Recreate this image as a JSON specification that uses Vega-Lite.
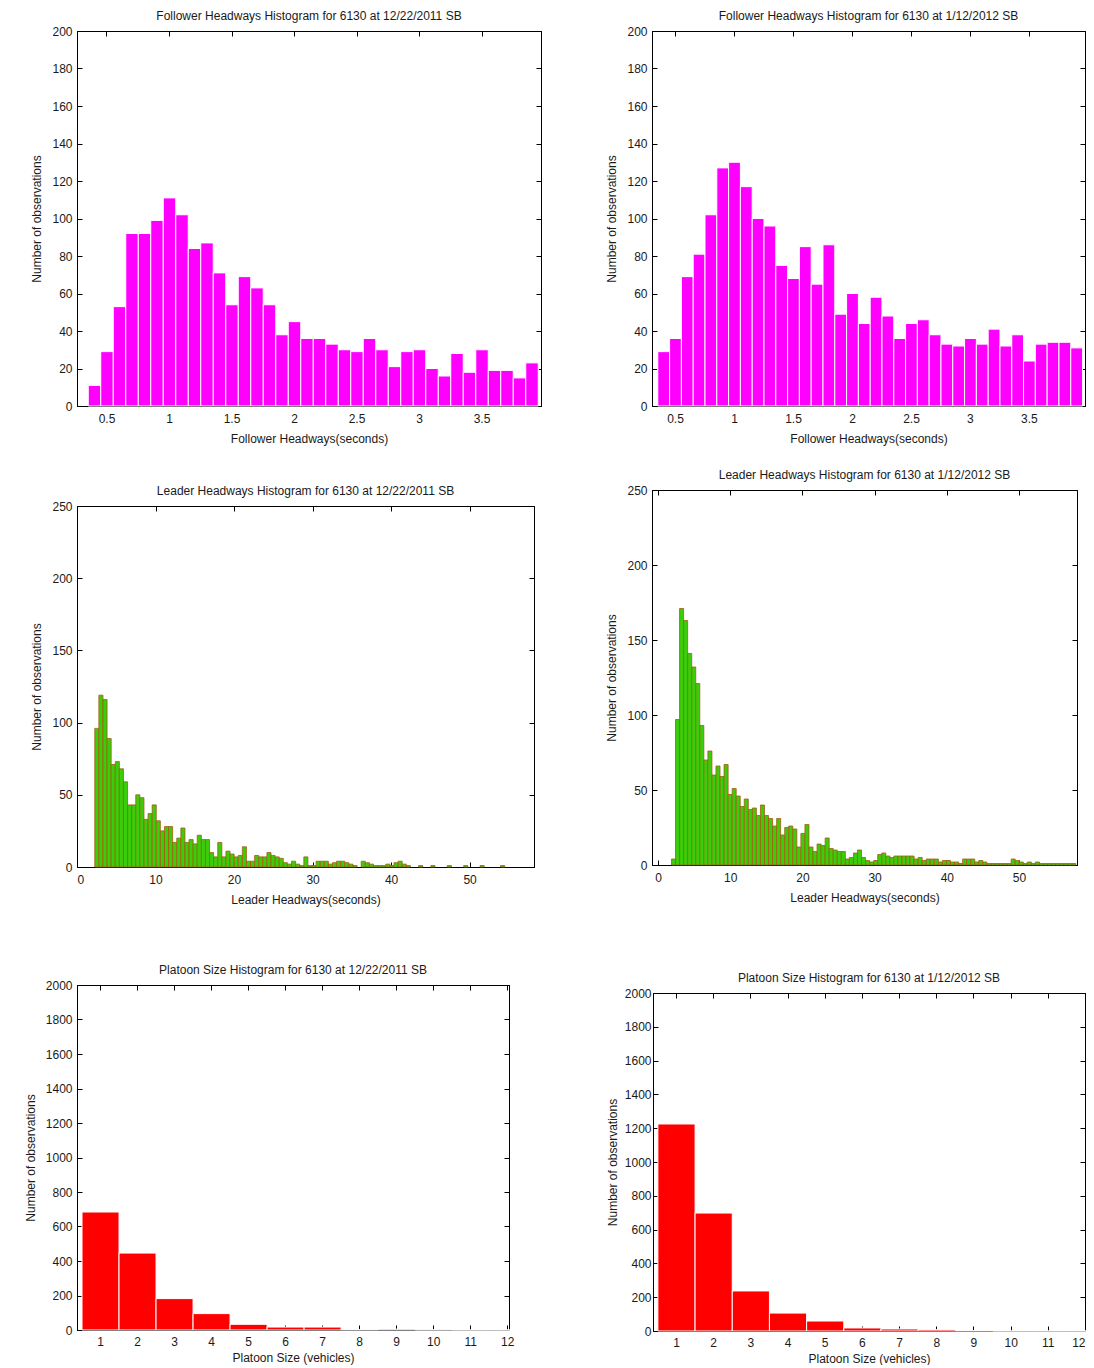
{
"$schema": "https://vega.github.io/schema/vega-lite/v6.json",
"background": "#ffffff",
"padding": {"left": 23, "top": 9, "right": 0, "bottom": 0},
"datasets": {
"fol1": [{"x":0.35,"n":11},{"x":0.45,"n":29},{"x":0.55,"n":53},{"x":0.65,"n":92},{"x":0.75,"n":92},{"x":0.85,"n":99},{"x":0.95,"n":111},{"x":1.05,"n":102},{"x":1.15,"n":84},{"x":1.25,"n":87},{"x":1.35,"n":71},{"x":1.45,"n":54},{"x":1.55,"n":69},{"x":1.65,"n":63},{"x":1.75,"n":54},{"x":1.85,"n":38},{"x":1.95,"n":45},{"x":2.05,"n":36},{"x":2.15,"n":36},{"x":2.25,"n":33},{"x":2.35,"n":30},{"x":2.45,"n":29},{"x":2.55,"n":36},{"x":2.65,"n":30},{"x":2.75,"n":21},{"x":2.85,"n":29},{"x":2.95,"n":30},{"x":3.05,"n":20},{"x":3.15,"n":16},{"x":3.25,"n":28},{"x":3.35,"n":18},{"x":3.45,"n":30},{"x":3.55,"n":19},{"x":3.65,"n":19},{"x":3.75,"n":15},{"x":3.85,"n":23}],
"fol2": [{"x":0.35,"n":29},{"x":0.45,"n":36},{"x":0.55,"n":69},{"x":0.65,"n":81},{"x":0.75,"n":102},{"x":0.85,"n":127},{"x":0.95,"n":130},{"x":1.05,"n":117},{"x":1.15,"n":100},{"x":1.25,"n":96},{"x":1.35,"n":75},{"x":1.45,"n":68},{"x":1.55,"n":85},{"x":1.65,"n":65},{"x":1.75,"n":86},{"x":1.85,"n":49},{"x":1.95,"n":60},{"x":2.05,"n":44},{"x":2.15,"n":58},{"x":2.25,"n":48},{"x":2.35,"n":36},{"x":2.45,"n":44},{"x":2.55,"n":46},{"x":2.65,"n":38},{"x":2.75,"n":33},{"x":2.85,"n":32},{"x":2.95,"n":36},{"x":3.05,"n":33},{"x":3.15,"n":41},{"x":3.25,"n":32},{"x":3.35,"n":38},{"x":3.45,"n":24},{"x":3.55,"n":33},{"x":3.65,"n":34},{"x":3.75,"n":34},{"x":3.85,"n":31}],
"lead1": [{"x":2.2,"n":96},{"x":2.722,"n":119},{"x":3.244,"n":116},{"x":3.766,"n":89},{"x":4.288,"n":71},{"x":4.81,"n":73},{"x":5.332,"n":68},{"x":5.854,"n":59},{"x":6.376,"n":43},{"x":6.898,"n":43},{"x":7.42,"n":50},{"x":7.942,"n":48},{"x":8.464,"n":33},{"x":8.986,"n":37},{"x":9.508,"n":43},{"x":10.03,"n":32},{"x":10.552,"n":25},{"x":11.074,"n":28},{"x":11.596,"n":28},{"x":12.118,"n":17},{"x":12.64,"n":20},{"x":13.162,"n":27},{"x":13.684,"n":17},{"x":14.206,"n":19},{"x":14.728,"n":16},{"x":15.25,"n":22},{"x":15.772,"n":19},{"x":16.294,"n":19},{"x":16.816,"n":10},{"x":17.338,"n":7},{"x":17.86,"n":17},{"x":18.382,"n":7},{"x":18.904,"n":11},{"x":19.426,"n":9},{"x":19.948,"n":7},{"x":20.47,"n":8},{"x":20.992,"n":14},{"x":21.514,"n":4},{"x":22.036,"n":4},{"x":22.558,"n":8},{"x":23.08,"n":7},{"x":23.602,"n":7},{"x":24.124,"n":10},{"x":24.646,"n":8},{"x":25.168,"n":7},{"x":25.69,"n":6},{"x":26.212,"n":3},{"x":26.734,"n":2},{"x":27.256,"n":4},{"x":27.778,"n":2},{"x":28.3,"n":1},{"x":28.822,"n":7},{"x":29.344,"n":1},{"x":29.866,"n":1},{"x":30.388,"n":4},{"x":30.91,"n":4},{"x":31.432,"n":4},{"x":31.954,"n":2},{"x":32.476,"n":3},{"x":32.998,"n":4},{"x":33.52,"n":4},{"x":34.042,"n":3},{"x":34.564,"n":2},{"x":35.086,"n":1},{"x":36.13,"n":4},{"x":36.652,"n":3},{"x":37.174,"n":2},{"x":37.696,"n":1},{"x":38.218,"n":1},{"x":38.74,"n":1},{"x":39.262,"n":2},{"x":39.784,"n":1},{"x":40.306,"n":3},{"x":40.828,"n":4},{"x":41.35,"n":2},{"x":41.872,"n":1},{"x":43.438,"n":1},{"x":45.004,"n":1},{"x":47.092,"n":1},{"x":49.18,"n":1},{"x":51.268,"n":1},{"x":53.878,"n":1}],
"lead2": [{"x":1.8,"n":4},{"x":2.36,"n":97},{"x":2.92,"n":171},{"x":3.48,"n":163},{"x":4.04,"n":141},{"x":4.6,"n":132},{"x":5.16,"n":121},{"x":5.72,"n":93},{"x":6.28,"n":70},{"x":6.84,"n":76},{"x":7.4,"n":60},{"x":7.96,"n":66},{"x":8.52,"n":59},{"x":9.08,"n":67},{"x":9.64,"n":47},{"x":10.2,"n":51},{"x":10.76,"n":46},{"x":11.32,"n":39},{"x":11.88,"n":44},{"x":12.44,"n":37},{"x":13.0,"n":38},{"x":13.56,"n":33},{"x":14.12,"n":40},{"x":14.68,"n":33},{"x":15.24,"n":31},{"x":15.8,"n":26},{"x":16.36,"n":31},{"x":16.92,"n":20},{"x":17.48,"n":25},{"x":18.04,"n":26},{"x":18.6,"n":24},{"x":19.16,"n":12},{"x":19.72,"n":21},{"x":20.28,"n":27},{"x":20.84,"n":12},{"x":21.4,"n":9},{"x":21.96,"n":14},{"x":22.52,"n":13},{"x":23.08,"n":18},{"x":23.64,"n":11},{"x":24.2,"n":10},{"x":24.76,"n":9},{"x":25.32,"n":9},{"x":25.88,"n":4},{"x":26.44,"n":5},{"x":27.0,"n":8},{"x":27.56,"n":10},{"x":28.12,"n":5},{"x":28.68,"n":3},{"x":29.24,"n":2},{"x":29.8,"n":3},{"x":30.36,"n":7},{"x":30.92,"n":8},{"x":31.48,"n":6},{"x":32.04,"n":5},{"x":32.6,"n":6},{"x":33.16,"n":6},{"x":33.72,"n":6},{"x":34.28,"n":6},{"x":34.84,"n":6},{"x":35.4,"n":4},{"x":35.96,"n":5},{"x":36.52,"n":3},{"x":37.08,"n":4},{"x":37.64,"n":4},{"x":38.2,"n":4},{"x":38.76,"n":2},{"x":39.32,"n":3},{"x":39.88,"n":3},{"x":40.44,"n":2},{"x":41.0,"n":2},{"x":41.56,"n":1},{"x":42.12,"n":4},{"x":42.68,"n":4},{"x":43.24,"n":4},{"x":43.8,"n":2},{"x":44.36,"n":3},{"x":44.92,"n":2},{"x":45.48,"n":1},{"x":46.04,"n":1},{"x":46.6,"n":1},{"x":47.16,"n":1},{"x":47.72,"n":1},{"x":48.28,"n":1},{"x":48.84,"n":4},{"x":49.4,"n":3},{"x":49.96,"n":2},{"x":50.52,"n":1},{"x":51.08,"n":2},{"x":51.64,"n":1},{"x":52.2,"n":2},{"x":52.76,"n":1},{"x":53.32,"n":1},{"x":53.88,"n":1},{"x":54.44,"n":1},{"x":55.0,"n":1},{"x":55.56,"n":1},{"x":56.12,"n":1},{"x":56.68,"n":1},{"x":57.24,"n":1}],
"plat1": [{"x":0.5,"n":684},{"x":1.5,"n":446},{"x":2.5,"n":182},{"x":3.5,"n":95},{"x":4.5,"n":33},{"x":5.5,"n":17},{"x":6.5,"n":17},{"x":7.5,"n":2},{"x":8.5,"n":5},{"x":9.5,"n":1},{"x":10.5,"n":0},{"x":11.5,"n":0}],
"plat2": [{"x":0.5,"n":1225},{"x":1.5,"n":698},{"x":2.5,"n":237},{"x":3.5,"n":106},{"x":4.5,"n":59},{"x":5.5,"n":18},{"x":6.5,"n":12},{"x":7.5,"n":8},{"x":8.5,"n":2},{"x":9.5,"n":0},{"x":10.5,"n":0},{"x":11.5,"n":0}]
},
"concat": [
  {"width": 464, "height": 375,
   "title": {"text": "Follower Headways Histogram for 6130 at 12/22/2011 SB"},
   "data": {"name": "fol1"},
   "layer": [
    {"mark": {"type": "bar", "fill": "#ff00ff", "stroke": "#ffffff", "strokeWidth": 1, "binSpacing": 0},
     "encoding": {
      "x": {"field": "x", "type": "quantitative", "bin": {"binned": true, "step": 0.1}, "scale": {"domain": [0.264, 3.976], "nice": false, "zero": false}, "axis": {"values": [0.5,1,1.5,2,2.5,3,3.5], "format": "~g", "title": "Follower Headways(seconds)"}},
      "y": {"field": "n", "type": "quantitative", "scale": {"domain": [0, 200], "nice": false}, "axis": {"values": [0,20,40,60,80,100,120,140,160,180,200], "title": "Number of observations"}}}},
    {"mark": {"type": "bar", "opacity": 0, "binSpacing": 0},
     "encoding": {
      "x": {"field": "x", "type": "quantitative", "bin": {"binned": true, "step": 0.1}, "axis": {"orient": "top", "values": [0.5,1,1.5,2,2.5,3,3.5], "labels": false, "title": null}},
      "y": {"field": "n", "type": "quantitative", "axis": {"orient": "right", "values": [0,20,40,60,80,100,120,140,160,180,200], "labels": false, "title": null}}}}
   ],
   "resolve": {"axis": {"x": "independent", "y": "independent"}}},
  {"width": 433, "height": 375,
   "title": {"text": "Follower Headways Histogram for 6130 at 1/12/2012 SB"},
   "data": {"name": "fol2"},
   "layer": [
    {"mark": {"type": "bar", "fill": "#ff00ff", "stroke": "#ffffff", "strokeWidth": 1, "binSpacing": 0},
     "encoding": {
      "x": {"field": "x", "type": "quantitative", "bin": {"binned": true, "step": 0.1}, "scale": {"domain": [0.305, 3.975], "nice": false, "zero": false}, "axis": {"values": [0.5,1,1.5,2,2.5,3,3.5], "format": "~g", "title": "Follower Headways(seconds)"}},
      "y": {"field": "n", "type": "quantitative", "scale": {"domain": [0, 200], "nice": false}, "axis": {"values": [0,20,40,60,80,100,120,140,160,180,200], "title": "Number of observations"}}}},
    {"mark": {"type": "bar", "opacity": 0, "binSpacing": 0},
     "encoding": {
      "x": {"field": "x", "type": "quantitative", "bin": {"binned": true, "step": 0.1}, "axis": {"orient": "top", "values": [0.5,1,1.5,2,2.5,3,3.5], "labels": false, "title": null}},
      "y": {"field": "n", "type": "quantitative", "axis": {"orient": "right", "values": [0,20,40,60,80,100,120,140,160,180,200], "labels": false, "title": null}}}}
   ],
   "resolve": {"axis": {"x": "independent", "y": "independent"}}},
  {"width": 457, "height": 361,
   "title": {"text": ["", "Leader Headways Histogram for 6130 at 12/22/2011 SB"], "lineHeight": 16},
   "data": {"name": "lead1"},
   "layer": [
    {"mark": {"type": "bar", "fill": "#3acd0a", "stroke": "#a85a10", "strokeWidth": 0.8, "binSpacing": 0},
     "encoding": {
      "x": {"field": "x", "type": "quantitative", "bin": {"binned": true, "step": 0.522}, "scale": {"domain": [0, 58.2], "nice": false, "zero": false}, "axis": {"values": [0,10,20,30,40,50], "format": "~g", "title": "Leader Headways(seconds)"}},
      "y": {"field": "n", "type": "quantitative", "scale": {"domain": [0, 250], "nice": false}, "axis": {"values": [0,50,100,150,200,250], "title": "Number of observations"}}}},
    {"mark": {"type": "bar", "opacity": 0, "binSpacing": 0},
     "encoding": {
      "x": {"field": "x", "type": "quantitative", "bin": {"binned": true, "step": 0.522}, "axis": {"orient": "top", "values": [0,10,20,30,40,50], "labels": false, "title": null}},
      "y": {"field": "n", "type": "quantitative", "axis": {"orient": "right", "values": [0,50,100,150,200,250], "labels": false, "title": null}}}}
   ],
   "resolve": {"axis": {"x": "independent", "y": "independent"}}},
  {"width": 425, "height": 375,
   "title": {"text": "Leader Headways Histogram for 6130 at 1/12/2012 SB"},
   "data": {"name": "lead2"},
   "layer": [
    {"mark": {"type": "bar", "fill": "#3acd0a", "stroke": "#a85a10", "strokeWidth": 0.8, "binSpacing": 0},
     "encoding": {
      "x": {"field": "x", "type": "quantitative", "bin": {"binned": true, "step": 0.56}, "scale": {"domain": [-0.83, 58.03], "nice": false, "zero": false}, "axis": {"values": [0,10,20,30,40,50], "format": "~g", "title": "Leader Headways(seconds)"}},
      "y": {"field": "n", "type": "quantitative", "scale": {"domain": [0, 250], "nice": false}, "axis": {"values": [0,50,100,150,200,250], "title": "Number of observations"}}}},
    {"mark": {"type": "bar", "opacity": 0, "binSpacing": 0},
     "encoding": {
      "x": {"field": "x", "type": "quantitative", "bin": {"binned": true, "step": 0.56}, "axis": {"orient": "top", "values": [0,10,20,30,40,50], "labels": false, "title": null}},
      "y": {"field": "n", "type": "quantitative", "axis": {"orient": "right", "values": [0,50,100,150,200,250], "labels": false, "title": null}}}}
   ],
   "resolve": {"axis": {"x": "independent", "y": "independent"}}},
  {"width": 432, "height": 345,
   "title": {"text": ["", "Platoon Size Histogram for 6130 at 12/22/2011 SB"], "lineHeight": 20},
   "data": {"name": "plat1"},
   "layer": [
    {"mark": {"type": "bar", "fill": "#ff0000", "stroke": "#ffffff", "strokeWidth": 1, "binSpacing": 0},
     "encoding": {
      "x": {"field": "x", "type": "quantitative", "bin": {"binned": true, "step": 1}, "scale": {"domain": [0.378, 12.05], "nice": false, "zero": false}, "axis": {"values": [1,2,3,4,5,6,7,8,9,10,11,12], "format": "~g", "title": "Platoon Size (vehicles)", "labelPadding": 11, "titlePadding": 5}},
      "y": {"field": "n", "type": "quantitative", "scale": {"domain": [0, 2000], "nice": false}, "axis": {"values": [0,200,400,600,800,1000,1200,1400,1600,1800,2000], "format": "d", "title": "Number of observations"}}}},
    {"mark": {"type": "bar", "opacity": 0, "binSpacing": 0},
     "encoding": {
      "x": {"field": "x", "type": "quantitative", "bin": {"binned": true, "step": 1}, "axis": {"orient": "top", "values": [1,2,3,4,5,6,7,8,9,10,11,12], "labels": false, "title": null}},
      "y": {"field": "n", "type": "quantitative", "axis": {"orient": "right", "values": [0,200,400,600,800,1000,1200,1400,1600,1800,2000], "labels": false, "title": null}}}}
   ],
   "resolve": {"axis": {"x": "independent", "y": "independent"}}},
  {"width": 432, "height": 338,
   "title": {"text": ["", "Platoon Size Histogram for 6130 at 1/12/2012 SB"], "lineHeight": 44},
   "data": {"name": "plat2"},
   "layer": [
    {"mark": {"type": "bar", "fill": "#ff0000", "stroke": "#ffffff", "strokeWidth": 1, "binSpacing": 0},
     "encoding": {
      "x": {"field": "x", "type": "quantitative", "bin": {"binned": true, "step": 1}, "scale": {"domain": [0.382, 12], "nice": false, "zero": false}, "axis": {"values": [1,2,3,4,5,6,7,8,9,10,11,12], "format": "~g", "title": "Platoon Size (vehicles)", "labelPadding": 11, "titlePadding": 5}},
      "y": {"field": "n", "type": "quantitative", "scale": {"domain": [0, 2000], "nice": false}, "axis": {"values": [0,200,400,600,800,1000,1200,1400,1600,1800,2000], "format": "d", "title": "Number of observations", "labelPadding": 7, "titlePadding": 5}}}},
    {"mark": {"type": "bar", "opacity": 0, "binSpacing": 0},
     "encoding": {
      "x": {"field": "x", "type": "quantitative", "bin": {"binned": true, "step": 1}, "axis": {"orient": "top", "values": [1,2,3,4,5,6,7,8,9,10,11,12], "labels": false, "title": null}},
      "y": {"field": "n", "type": "quantitative", "axis": {"orient": "right", "values": [0,200,400,600,800,1000,1200,1400,1600,1800,2000], "labels": false, "title": null}}}}
   ],
   "resolve": {"axis": {"x": "independent", "y": "independent"}}}
],
"columns": 2,
"align": "none",
"spacing": {"row": 23, "column": 63},
"config": {
 "font": "Liberation Sans",
 "view": {"stroke": "#000000", "strokeWidth": 1},
 "title": {"fontSize": 12, "fontWeight": "normal", "font": "Liberation Sans", "color": "#1a1a1a", "offset": 2},
 "axis": {"domainColor": "#000000", "domainWidth": 1, "tickColor": "#000000", "tickSize": -5, "tickWidth": 1, "grid": false, "labelFont": "Liberation Sans", "labelFontSize": 12, "labelColor": "#1a1a1a", "titleFont": "Liberation Sans", "titleFontSize": 12, "titleFontWeight": "normal", "titleColor": "#1a1a1a"},
 "axisX": {"labelPadding": 12, "titlePadding": 9},
 "axisY": {"labelPadding": 10, "titlePadding": 8}
}
}
